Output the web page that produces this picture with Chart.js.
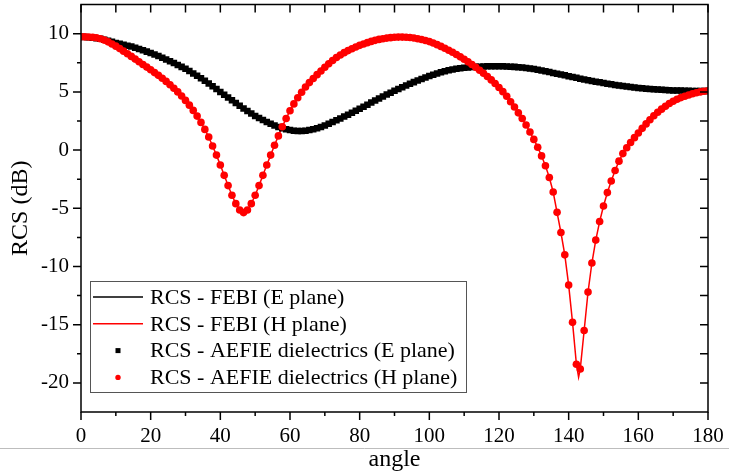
<!DOCTYPE html>
<html>
<head>
<meta charset="utf-8">
<script src="https://cdn.jsdelivr.net/npm/chart.js@4.4.0/dist/chart.umd.min.js"></script>
<style>
  html, body { margin: 0; padding: 0; background: #fff; }
  #wrap { width: 729px; height: 474px; }
</style>
</head>
<body>
<div id="wrap"><canvas id="rcs" width="729" height="474"></canvas></div>
<script>
// Observation angles (deg): 163 uniformly spaced samples from 0 to 180
const angles = Array.from({ length: 163 }, (_, i) => i * 180 / 162);

// RCS (dB), E plane
const rcsE = [
  9.73, 9.72, 9.70, 9.66, 9.61, 9.56, 9.48, 9.39, 9.30, 9.21,
  9.13, 9.05, 8.97, 8.89, 8.80, 8.69, 8.57, 8.46, 8.35, 8.22,
  8.08, 7.94, 7.79, 7.64, 7.48, 7.32, 7.15, 6.98, 6.79, 6.59,
  6.39, 6.17, 5.95, 5.72, 5.48, 5.24, 4.99, 4.75, 4.51, 4.28,
  4.04, 3.80, 3.57, 3.35, 3.14, 2.94, 2.76, 2.58, 2.42, 2.26,
  2.12, 1.99, 1.88, 1.79, 1.72, 1.67, 1.64, 1.64, 1.67, 1.72,
  1.79, 1.88, 1.99, 2.12, 2.26, 2.41, 2.56, 2.72, 2.88, 3.04,
  3.21, 3.38, 3.55, 3.72, 3.90, 4.08, 4.26, 4.43, 4.60, 4.77,
  4.93, 5.09, 5.25, 5.40, 5.55, 5.70, 5.84, 5.98, 6.11, 6.24,
  6.36, 6.47, 6.58, 6.68, 6.77, 6.85, 6.92, 6.98, 7.03, 7.07,
  7.10, 7.13, 7.15, 7.17, 7.19, 7.20, 7.21, 7.21, 7.21, 7.20,
  7.19, 7.17, 7.15, 7.12, 7.09, 7.05, 7.01, 6.96, 6.90, 6.84,
  6.77, 6.70, 6.63, 6.56, 6.49, 6.42, 6.35, 6.28, 6.21, 6.14,
  6.07, 6.00, 5.94, 5.88, 5.82, 5.76, 5.70, 5.65, 5.60, 5.55,
  5.50, 5.46, 5.42, 5.38, 5.34, 5.31, 5.28, 5.25, 5.22, 5.20,
  5.18, 5.16, 5.14, 5.13, 5.12, 5.11, 5.10, 5.09, 5.08, 5.08,
  5.07, 5.07, 5.07
];

// RCS (dB), H plane
const rcsH = [
  9.73, 9.73, 9.72, 9.70, 9.65, 9.57, 9.45, 9.30, 9.12, 8.93,
  8.72, 8.50, 8.28, 8.05, 7.82, 7.59, 7.36, 7.13, 6.90, 6.66,
  6.42, 6.17, 5.90, 5.62, 5.32, 5.00, 4.65, 4.27, 3.86, 3.41,
  2.92, 2.38, 1.78, 1.12, 0.35, -0.43, -1.28, -2.17, -3.05, -3.88,
  -4.60, -5.14, -5.37, -5.14, -4.60, -3.88, -3.05, -2.17, -1.28, -0.43,
  0.42, 1.22, 2.00, 2.72, 3.38, 3.97, 4.50, 4.97, 5.42, 5.80,
  6.15, 6.48, 6.80, 7.12, 7.42, 7.70, 7.95, 8.17, 8.37, 8.55,
  8.71, 8.86, 9.00, 9.12, 9.23, 9.34, 9.43, 9.51, 9.57, 9.62,
  9.66, 9.69, 9.71, 9.71, 9.70, 9.67, 9.63, 9.57, 9.50, 9.42,
  9.32, 9.20, 9.06, 8.91, 8.75, 8.58, 8.40, 8.21, 8.01, 7.80,
  7.58, 7.35, 7.11, 6.86, 6.60, 6.32, 6.03, 5.72, 5.38, 5.02,
  4.63, 4.15, 3.70, 3.20, 2.72, 2.15, 1.55, 0.92, 0.25, -0.50,
  -1.35, -2.35, -3.60, -5.35, -7.08, -9.00, -11.60, -14.80, -18.40, -18.80,
  -15.50, -12.20, -9.70, -7.73, -6.14, -4.80, -3.65, -2.65, -1.75, -0.95,
  -0.30, 0.20, 0.65, 1.07, 1.47, 1.87, 2.25, 2.61, 2.95, 3.25,
  3.52, 3.77, 4.00, 4.20, 4.37, 4.51, 4.63, 4.74, 4.84, 4.93,
  5.00, 5.06, 5.10
];

// FEBI H-plane solution also resolves the null between the AEFIE samples
const febiHNull = { angle: 142.85, value: -19.5 };

const xTicks = [0, 20, 40, 60, 80, 100, 120, 140, 160, 180];
const xMinorTicks = [10, 30, 50, 70, 90, 110, 130, 150, 170];
const yTicks = [-20, -15, -10, -5, 0, 5, 10];
const yMinorTicks = [-17.5, -12.5, -7.5, -2.5, 2.5, 7.5];

const seriesLabels = [
  'RCS - FEBI (E plane)',
  'RCS - FEBI (H plane)',
  'RCS - AEFIE dielectrics (E plane)',
  'RCS - AEFIE dielectrics (H plane)'
];

const toPoints = (xs, ys) => xs.map((a, i) => ({ x: a, y: ys[i] }));

const febiE = toPoints(angles, rcsE);
const febiH = toPoints(angles, rcsH)
  .concat([{ x: febiHNull.angle, y: febiHNull.value }])
  .sort((p, q) => p.x - q.x);

const SERIF = "'Liberation Serif', 'Times New Roman', serif";

// Frame with mirrored ticks on top/right, minor ticks on all sides
const framePlugin = {
  id: 'frame',
  afterDatasetsDraw(chart) {
    const { ctx, chartArea: a, scales: { x, y } } = chart;
    ctx.save();
    ctx.strokeStyle = '#000';
    ctx.lineWidth = 1.5;
    ctx.beginPath();
    ctx.rect(a.left, a.top, a.right - a.left, a.bottom - a.top);
    ctx.stroke();
    ctx.beginPath();
    const major = 8, minor = 4, inner = 8;
    xTicks.forEach(v => { const px = x.getPixelForValue(v); ctx.moveTo(px, a.bottom); ctx.lineTo(px, a.bottom + major); });
    xMinorTicks.forEach(v => { const px = x.getPixelForValue(v); ctx.moveTo(px, a.bottom); ctx.lineTo(px, a.bottom + minor); });
    xTicks.concat(xMinorTicks).forEach(v => { const px = x.getPixelForValue(v); ctx.moveTo(px, a.top); ctx.lineTo(px, a.top + inner); });
    yTicks.forEach(v => { const py = y.getPixelForValue(v); ctx.moveTo(a.left, py); ctx.lineTo(a.left - major, py); });
    yMinorTicks.forEach(v => { const py = y.getPixelForValue(v); ctx.moveTo(a.left, py); ctx.lineTo(a.left - minor, py); });
    yTicks.concat(yMinorTicks).forEach(v => { const py = y.getPixelForValue(v); ctx.moveTo(a.right, py); ctx.lineTo(a.right - inner, py); });
    ctx.stroke();
    ctx.restore();
  },
  afterDraw(chart) {
    // thin rule beneath the tick labels
    const { ctx, width } = chart;
    ctx.save();
    ctx.strokeStyle = '#bdbdbd';
    ctx.lineWidth = 1;
    ctx.beginPath();
    ctx.moveTo(0, 448.5);
    ctx.lineTo(width, 448.5);
    ctx.stroke();
    ctx.restore();
  }
};

// Boxed legend in the lower-left corner of the plot area
const boxLegend = {
  id: 'boxLegend',
  afterDatasetsDraw(chart) {
    const { ctx, chartArea: a } = chart;
    const w = 376, h = 111;
    const x0 = a.left + 9, y0 = a.bottom - 20 - h;
    ctx.save();
    ctx.fillStyle = '#fff';
    ctx.fillRect(x0, y0, w, h);
    ctx.strokeStyle = '#555';
    ctx.lineWidth = 1;
    ctx.strokeRect(x0 + 0.5, y0 + 0.5, w, h);
    ctx.font = '22px ' + SERIF;
    ctx.textBaseline = 'middle';
    ctx.textAlign = 'left';
    chart.data.datasets.forEach((ds, i) => {
      const cy = y0 + 16 + i * 26.8;
      const sx0 = x0 + 3, sx1 = x0 + 53, scx = (sx0 + sx1) / 2;
      if (ds.showLine) {
        ctx.strokeStyle = ds.borderColor;
        ctx.lineWidth = ds.borderWidth;
        ctx.beginPath();
        ctx.moveTo(sx0, cy);
        ctx.lineTo(sx1, cy);
        ctx.stroke();
      } else {
        ctx.fillStyle = ds.pointBackgroundColor;
        if (ds.pointStyle === 'rect') {
          ctx.fillRect(scx - 2.5, cy - 2.5, 5, 5);
        } else {
          ctx.beginPath();
          ctx.arc(scx, cy, 2.7, 0, Math.PI * 2);
          ctx.fill();
        }
      }
      ctx.fillStyle = '#000';
      ctx.fillText(ds.label, x0 + 60, cy + 1);
    });
    ctx.restore();
  }
};

Chart.defaults.color = '#000';
Chart.defaults.font.family = SERIF;

new Chart(document.getElementById('rcs'), {
  type: 'scatter',
  data: {
    datasets: [
      {
        label: seriesLabels[0], data: febiE, showLine: true,
        borderColor: '#000', borderWidth: 1.5, pointRadius: 0, order: 4, clip: 0
      },
      {
        label: seriesLabels[1], data: febiH, showLine: true,
        borderColor: '#ff0000', borderWidth: 1.5, pointRadius: 0, order: 3, clip: 0
      },
      {
        label: seriesLabels[2], data: toPoints(angles, rcsE), showLine: false,
        pointStyle: 'rect', pointRadius: 4.6, pointBorderWidth: 0,
        pointBackgroundColor: '#000', backgroundColor: '#000', order: 2, clip: 0
      },
      {
        label: seriesLabels[3], data: toPoints(angles, rcsH), showLine: false,
        pointStyle: 'circle', pointRadius: 3.8, pointBorderWidth: 0,
        pointBackgroundColor: '#ff0000', backgroundColor: '#ff0000', order: 1, clip: 0
      }
    ]
  },
  options: {
    responsive: false,
    animation: false,
    devicePixelRatio: 1,
    layout: { padding: { top: 3, right: 21, left: 0, bottom: 0 } },
    plugins: { legend: { display: false }, tooltip: { enabled: false } },
    elements: { line: { tension: 0 } },
    scales: {
      x: {
        type: 'linear', min: 0, max: 180,
        afterBuildTicks: s => { s.ticks = xTicks.map(v => ({ value: v })); },
        afterFit: s => { s.height = 62; s.paddingLeft = 0; s.paddingRight = 0; },
        grid: { display: false, drawTicks: false },
        border: { display: false },
        ticks: { padding: 12, font: { size: 21, family: SERIF }, color: '#000', maxRotation: 0, autoSkip: false },
        title: { display: true, text: 'angle', font: { size: 24, family: SERIF }, color: '#000', padding: { top: 0, bottom: 0 } }
      },
      y: {
        type: 'linear', min: -22.5, max: 12.5,
        afterBuildTicks: s => { s.ticks = yTicks.map(v => ({ value: v })); },
        afterFit: s => { s.width = 81; s.paddingTop = 0; s.paddingBottom = 0; },
        grid: { display: false, drawTicks: false },
        border: { display: false },
        ticks: { padding: 12, font: { size: 21, family: SERIF }, color: '#000', callback: v => String(v) },
        title: { display: true, text: 'RCS (dB)', font: { size: 24, family: SERIF }, color: '#000', padding: { top: 6, bottom: 0 } }
      }
    }
  },
  plugins: [framePlugin, boxLegend]
});
</script>
</body>
</html>
